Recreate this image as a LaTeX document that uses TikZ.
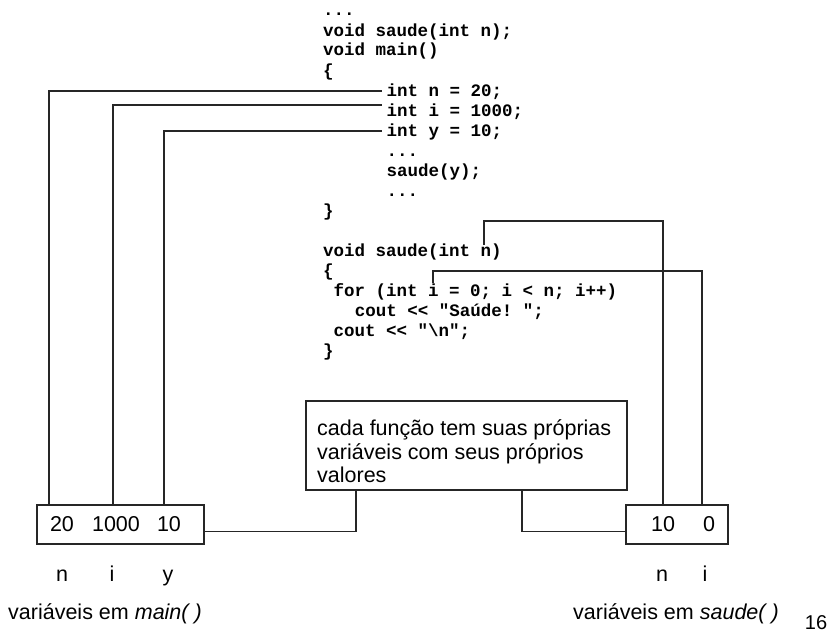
\documentclass[tikz,border=0pt]{standalone}
\usepackage{fontspec}
\setmainfont{Liberation Sans}
\newfontfamily\codefont{Liberation Mono}
\begin{document}
\begin{tikzpicture}[x=1pt,y=-1pt,
  code/.style={anchor=base west,inner sep=0pt,font=\codefont\bfseries\fontsize{17.5}{20}\selectfont},
  lbl/.style={inner sep=0pt,font=\fontsize{21.5}{23.5}\selectfont},
  box/.style={draw=black!85,line width=1.6pt,inner sep=0pt},
  wire/.style={draw=black!85,line width=1.3pt}]
\useasboundingbox (0,0) rectangle (828,637);
% code lines
\node[code] (c0) at (323,16) {...};
\node[code] (c1) at (323,36) {void saude(int n);};
\node[code] (c2) at (323,56) {void main()};
\node[code] (c3) at (323,76) {\{};
\node[code] (c4) at (386.3,96) {int n = 20;};
\node[code] (c5) at (386.3,116) {int i = 1000;};
\node[code] (c6) at (386.3,136) {int y = 10;};
\node[code] (c7) at (386.3,156) {...};
\node[code] (c8) at (386.3,176) {saude(y);};
\node[code] (c9) at (386.3,196) {...};
\node[code] (c10) at (323,216) {\}};
\node[code] (c12) at (323,256) {void saude(int n)};
\node[code] (c13) at (323,276) {\{};
\node[code] (c14) at (333.5,296) {for (int i = 0; i < n; i++)};
\node[code] (c15) at (354.6,316) {cout <{}< "Saúde!~";};
\node[code] (c16) at (333.5,336) {cout <{}< "\textbackslash n";};
\node[code] (c17) at (323,356) {\}};
% note box
\node[box,minimum width=321pt,minimum height=89pt,anchor=north west] (note) at (305,400) {};
\node[lbl,anchor=base west,align=left] (notetxt) at (317,482.7)
  {cada função tem suas próprias\\variáveis com seus próprios\\valores};
% main variables box
\node[box,minimum width=167pt,minimum height=39pt,anchor=north west] (mainbox) at (36,504) {};
\node[lbl,anchor=base] (v20) at (62,531) {20};
\node[lbl,anchor=base] (v1000) at (116,531) {1000};
\node[lbl,anchor=base] (v10) at (169,531) {10};
% saude variables box
\node[box,minimum width=102pt,minimum height=39pt,anchor=north west] (saudebox) at (625,504) {};
\node[lbl,anchor=base] (s10) at (663,531) {10};
\node[lbl,anchor=base] (s0) at (709,531) {0};
% variable names
\node[lbl,anchor=base] (nn) at (62,581) {n};
\node[lbl,anchor=base] (ni) at (112,581) {i};
\node[lbl,anchor=base] (ny) at (168,581) {y};
\node[lbl,anchor=base] (sn) at (662,581) {n};
\node[lbl,anchor=base] (si) at (705,581) {i};
% captions
\node[lbl,anchor=base west] (capmain) at (8,619) {variáveis em \textit{main( )}};
\node[lbl,anchor=base west] (capsaude) at (573,619) {variáveis em \textit{saude( )}};
\node[inner sep=0pt,anchor=base,font=\fontsize{20}{22}\selectfont] (pg) at (816,629) {16};
% connector end points
\coordinate (pn) at (49,504);
\coordinate (pi) at (113,504);
\coordinate (py) at (164,504);
\coordinate (tn) at (382,91);
\coordinate (ti) at (382,105);
\coordinate (ty) at (382,131);
\coordinate (an) at (484,245);
\coordinate (ai) at (433,283);
\coordinate (qn) at (663,504);
\coordinate (qi) at (702,504);
% connectors
\draw[wire] (pn) |- (tn);
\draw[wire] (pi) |- (ti);
\draw[wire] (py) |- (ty);
\draw[wire] (an) -- ++(0,-24) -| (qn);
\draw[wire] (ai) -- ++(0,-12) -| (qi);
\draw[wire] ([xshift=51pt]note.south west) |- ([yshift=-7.5pt]mainbox.east);
\draw[wire] ([xshift=217pt]note.south west) |- ([yshift=-7.5pt]saudebox.west);
\end{tikzpicture}
\end{document}
